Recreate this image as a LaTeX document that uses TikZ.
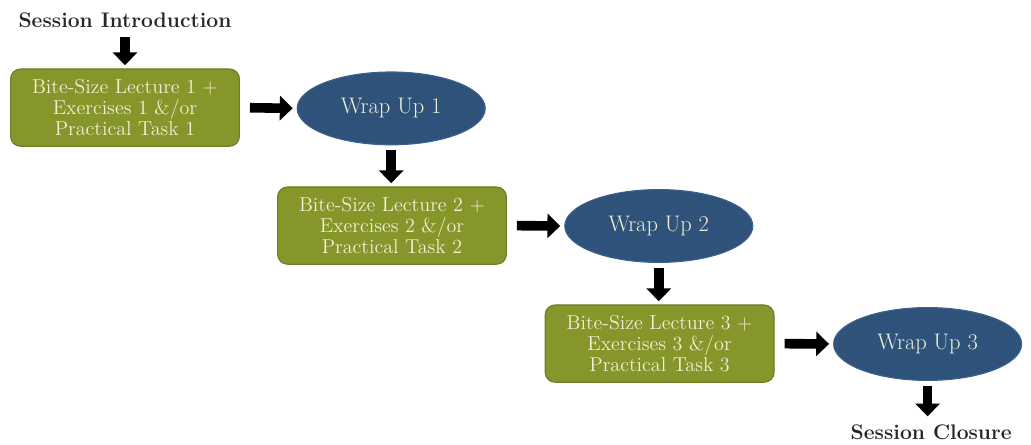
\documentclass[tikz,border=0pt]{standalone}
\usepackage{xcolor}
\usepackage{tikz}
\usetikzlibrary{arrows.meta, positioning, shapes.geometric}
\definecolor{lecturegreen}{RGB}{134, 150, 42}
\definecolor{lectureedge}{RGB}{110, 125, 40}
\definecolor{wrapblue}{RGB}{46, 82, 122}
\definecolor{wrapedge}{RGB}{60, 98, 140}
\definecolor{paletext}{RGB}{240, 240, 212}

\begin{document}
\begin{tikzpicture}[
    lecture/.style={rectangle, rounded corners=7pt, minimum width=5.72cm, minimum height=1.93cm, inner sep=0pt, align=center, font=\fontsize{14.3}{15.2}\selectfont, text=paletext, draw=lectureedge, fill=lecturegreen, line width=0.8pt},
    wrapup/.style={ellipse, minimum width=4.7cm, minimum height=1.82cm, inner sep=0pt, font=\fontsize{16}{18}\selectfont, text=paletext, draw=wrapedge, fill=wrapblue, line width=0.8pt},
    milestone/.style={font=\bfseries\fontsize{15}{17}\selectfont, text=black!85},
    blockarrow/.style={-{Triangle[length=0.32cm, width=0.6cm]}, line width=0.24cm, black}
  ]
  \useasboundingbox (0, 0) rectangle (25.775, -11.125);

  \node[milestone] (intro) at (3.125, -0.5) {Session Introduction};
  \node[lecture] (lec1) at (3.125, -2.69) {Bite-Size Lecture 1 +\\Exercises 1 \&/or\\Practical Task 1};
  \node[wrapup] (wrap1) at (9.78, -2.71) {Wrap Up 1};
  \node[lecture] (lec2) at (9.8, -5.64) {Bite-Size Lecture 2 +\\Exercises 2 \&/or\\Practical Task 2};
  \node[wrapup] (wrap2) at (16.47, -5.65) {Wrap Up 2};
  \node[lecture] (lec3) at (16.49, -8.59) {Bite-Size Lecture 3 +\\Exercises 3 \&/or\\Practical Task 3};
  \node[wrapup] (wrap3) at (23.19, -8.6) {Wrap Up 3};
  \node[milestone] (closure) at (23.28, -10.8) {Session Closure};

  % lecture -> wrap up
  \foreach \a/\b in {lec1/wrap1, lec2/wrap2, lec3/wrap3} {
    \draw[blockarrow, shorten <=0.25cm, shorten >=0.1cm] (\a.east) -- (\b.west);
  }

  % downward steps
  \foreach \a/\b in {intro/lec1, wrap1/lec2, wrap2/lec3, wrap3/closure} {
    \draw[blockarrow, shorten <=0.12cm, shorten >=0.08cm] (\a.south) -- (\a.south |- \b.north);
  }

\end{tikzpicture}
\end{document}
